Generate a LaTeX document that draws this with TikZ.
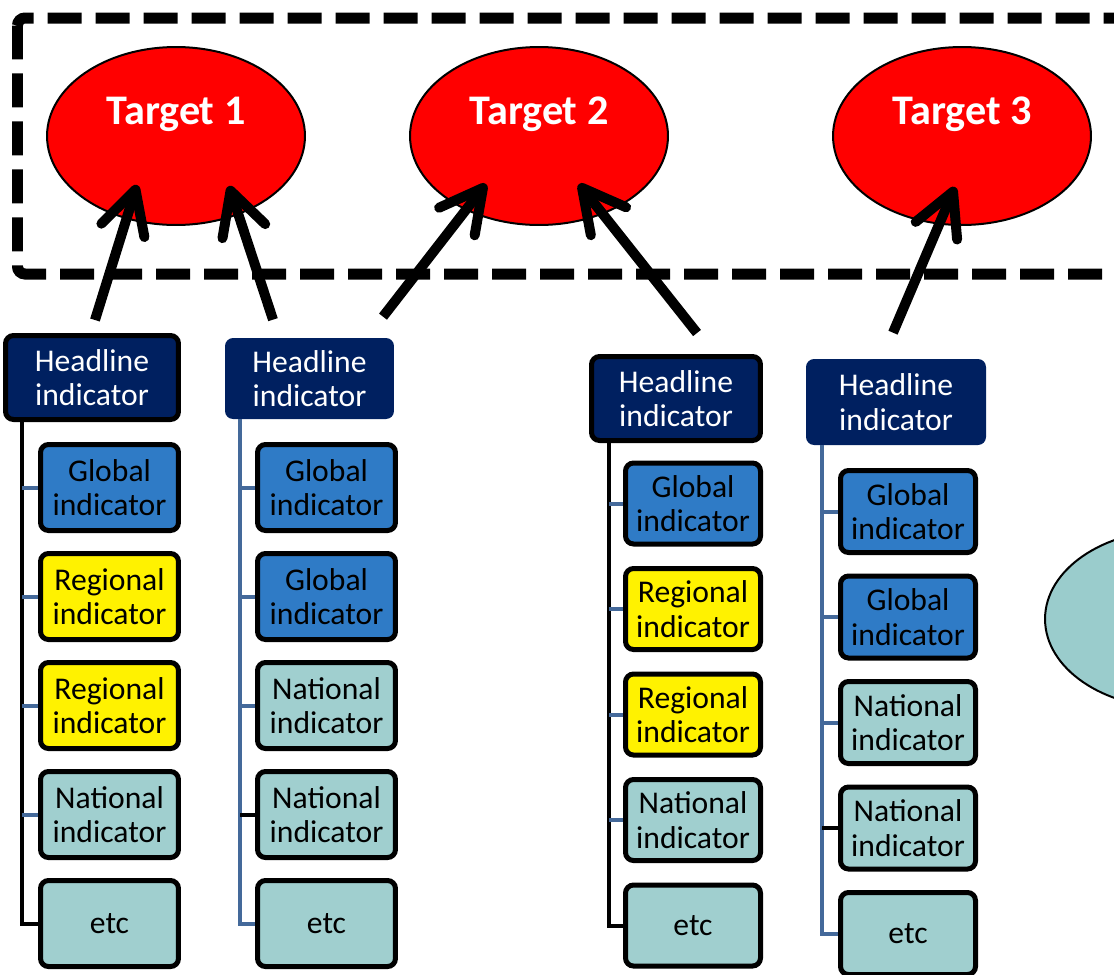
\documentclass[tikz,border=0pt]{standalone}
\usepackage{fontspec}
\setmainfont{Carlito}
\usetikzlibrary{arrows.meta,calc,shapes.geometric}
\definecolor{navy}{HTML}{002060}
\definecolor{globblue}{HTML}{2F7BC6}
\definecolor{natteal}{HTML}{A0CFCF}
\definecolor{sideteal}{HTML}{9ACCCC}
\definecolor{stubblue}{HTML}{44699A}
\begin{document}
\begin{tikzpicture}[x=0.02cm,y=-0.02cm,
  target/.style={ellipse,draw=black,line width=0.04cm,fill=red,minimum width=5.16cm,minimum height=3.56cm,inner sep=0pt},
  tgtlabel/.style={text=white,font=\bfseries\fontsize{24}{27}\selectfont,inner sep=0pt},
  headline/.style={rounded corners=0.16cm,fill=navy,text=white,align=center,inner sep=0pt,font=\fontsize{18}{19.5}\selectfont},
  framed/.style={draw=black,line width=0.1cm},
  ind/.style={rounded corners=0.16cm,draw=black,line width=0.1cm,align=center,inner sep=0pt,minimum height=1.72cm,font=\fontsize{18}{19.5}\selectfont},
  glob/.style={ind,fill=globblue},
  reg/.style={ind,fill=yellow},
  nat/.style={ind,fill=natteal},
  trunk/.style={line width=0.08cm,draw=black},
  stub/.style={line width=0.08cm,draw=stubblue},
  up/.style={line width=0.2cm,-{Straight Barb[length=0.85cm,width=0.9cm,line cap=round,line join=round]}}
]
\useasboundingbox (0,0) rectangle (1114,974);
\clip (0,0) rectangle (1114,974);

% targets
\draw[line width=0.22cm,dash pattern=on 0.68cm off 0.28cm,rounded corners=0.15cm] (17.5,18) rectangle (1170,274);
\node[target] (t1) at (176,136) {};
\node[target] (t2) at (539,136) {};
\node[target] (t3) at (962,136) {};
\node[tgtlabel] (t1l) at ($(t1.center)+(0,-22)$) {Target 1};
\node[tgtlabel] (t2l) at ($(t2.center)+(0,-22)$) {Target 2};
\node[tgtlabel] (t3l) at ($(t3.center)+(0,-22)$) {Target 3};
\node[target,fill=sideteal] (t4) at (1174,619) {};

% headline indicators
\node[headline,framed,minimum width=3.46cm,minimum height=1.68cm] (h1) at (92,377.5) {Headline\\indicator};
\node[headline,minimum width=3.38cm,minimum height=1.62cm] (h2) at (309.5,378.5) {Headline\\indicator};
\node[headline,framed,minimum width=3.38cm,minimum height=1.68cm] (h3) at (676,398.5) {Headline\\indicator};
\node[headline,minimum width=3.6cm,minimum height=1.72cm] (h4) at (896,402) {Headline\\indicator};

\draw[up] ($(h1.north)+(3,-13)$) -- ($(t1.center)+(-39,49)$);
\draw[up] ($(h2.north)+(-36.5,-18)$) -- ($(t1.center)+(53,50)$);
\draw[up] ($(h2.north)+(73.5,-21)$) -- ($(t2.center)+(-53,48)$);
\draw[up] ($(h3.north)+(21,-21)$) -- ($(t2.center)+(40,48)$);
\draw[up] ($(h4.north)+(-3,-26)$) -- ($(t3.center)+(-7,51)$);

% indicator columns
\foreach \s/\t [count=\i] in {glob/Global\\indicator,reg/Regional\\indicator,reg/Regional\\indicator,nat/National\\indicator,nat/etc}
  \node[\s,minimum width=2.76cm] (a\i) at (109.5,{487.5+109*(\i-1)}) {\t};
\foreach \s/\t [count=\i] in {glob/Global\\indicator,glob/Global\\indicator,nat/National\\indicator,nat/National\\indicator,nat/etc}
  \node[\s,minimum width=2.76cm] (b\i) at (326.5,{487.5+109*(\i-1)}) {\t};
\foreach \s/\t [count=\i] in {glob/Global\\indicator,reg/Regional\\indicator,reg/Regional\\indicator,nat/National\\indicator,nat/etc}
  \node[\s,minimum width=2.7cm,minimum height=1.62cm] (c\i) at (693,{503.5+105.5*(\i-1)}) {\t};
\foreach \s/\t [count=\i] in {glob/Global\\indicator,glob/Global\\indicator,nat/National\\indicator,nat/National\\indicator,nat/etc}
  \node[\s,minimum width=2.7cm,minimum height=1.64cm] (d\i) at (908,{511.5+105.5*(\i-1)}) {\t};

\coordinate (ka) at (22,0);
\coordinate (kb) at (240,0);
\coordinate (kc) at (609,0);
\coordinate (kd) at (822,0);
\draw[trunk] (h1.south -| ka) |- (a5.west);
\draw[trunk,stubblue] (h2.south -| kb) |- (b5.west);
\draw[trunk] (h3.south -| kc) |- (c5.west);
\draw[trunk,stubblue] (h4.south -| kd) |- (d5.west);
\foreach \i in {1,...,4} {
  \draw[stub] (a\i.west) -- (a\i.west -| ka);
  \draw[stub] (c\i.west) -- (c\i.west -| kc);
}
\foreach \i in {1,2,3} {
  \draw[stub] (b\i.west) -- (b\i.west -| kb);
  \draw[stub] (d\i.west) -- (d\i.west -| kd);
}
\draw[trunk] (b4.west) -- (b4.west -| kb);
\draw[trunk] (d4.west) -- (d4.west -| kd);
\end{tikzpicture}
\end{document}
